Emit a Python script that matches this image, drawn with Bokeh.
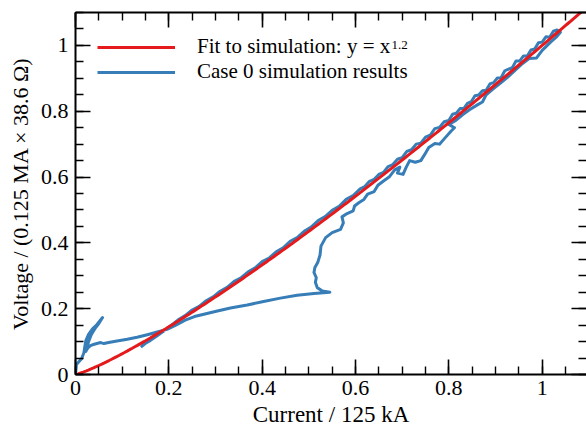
import numpy as np
from bokeh.plotting import figure
from bokeh.models import Range1d, LinearAxis, FixedTicker, Legend, LegendItem, Label
from bokeh.embed import file_html
from bokeh.resources import INLINE

FONT = "Liberation Serif"
RED = "#e41a1c"
BLUE = "#377eb8"

# ---- tick values / labels ----
x_ticks = [0.0, 0.2, 0.4, 0.6, 0.8, 1.0]
x_tick_labels = ["0", "0.2", "0.4", "0.6", "0.8", "1"]
y_ticks = [0.0, 0.2, 0.4, 0.6, 0.8, 1.0]
y_tick_labels = ["0", "0.2", "0.4", "0.6", "0.8", "1"]
minor_ticks = [round(0.05 * i, 2) for i in range(0, 23)]

# ---- fit: y = x^1.2 ----
fit_exponent = 1.2
fit_x = np.linspace(0.0, 1.1, 200)
fit_y = fit_x ** fit_exponent

# ---- Case 0 simulation results ----
sim_current = [
    # start near origin, spike and return
    0.000, 0.001, 0.002, 0.008, 0.013, 0.018, 0.020, 0.022, 0.028, 0.036, 0.046, 0.058,
    0.050, 0.042, 0.034, 0.028, 0.024, 0.022,
    # lower branch
    0.026, 0.032, 0.040, 0.048, 0.054, 0.061, 0.071, 0.089, 0.111, 0.132, 0.154, 0.175,
    0.196, 0.215, 0.235, 0.255, 0.275, 0.304, 0.332, 0.368, 0.403, 0.439, 0.475, 0.511, 0.545,
    # climb back to the fit
    0.529, 0.518, 0.514, 0.516, 0.511, 0.513, 0.519, 0.524, 0.526, 0.536, 0.550, 0.568,
    0.574, 0.571, 0.582, 0.595, 0.598, 0.607,
    # upward strand with loops
    0.618, 0.626, 0.640, 0.648, 0.660, 0.672, 0.684, 0.695, 0.690, 0.702, 0.708, 0.716,
    0.728, 0.740, 0.748, 0.757, 0.770, 0.780, 0.790, 0.805, 0.812, 0.800, 0.815, 0.830,
    0.845, 0.862, 0.872, 0.880, 0.895, 0.910, 0.925, 0.940, 0.958, 0.972, 0.988, 1.000,
    1.018, 1.030, 1.039,
    # downward strand along the fit
    1.032, 1.024, 1.016, 1.008, 1.000, 0.992, 0.984, 0.976, 0.968, 0.960, 0.952, 0.944,
    0.936, 0.928, 0.920, 0.912, 0.904, 0.896, 0.888, 0.880, 0.872, 0.864, 0.856, 0.848,
    0.840, 0.832, 0.824, 0.816, 0.808, 0.800, 0.790, 0.780, 0.770, 0.760, 0.750, 0.740,
    0.730, 0.720, 0.710, 0.700, 0.690, 0.680, 0.670, 0.660, 0.650, 0.640, 0.630, 0.620,
    0.610, 0.595, 0.580, 0.565, 0.550, 0.535, 0.520, 0.505, 0.490, 0.475, 0.460, 0.445,
    0.430, 0.415, 0.400, 0.385, 0.370, 0.355, 0.340, 0.325, 0.310, 0.295, 0.280, 0.265,
    0.250, 0.235, 0.220, 0.205, 0.190, 0.175, 0.160, 0.150, 0.140,
]
sim_voltage = [
    0.000, 0.015, 0.030, 0.040, 0.048, 0.066, 0.085, 0.102, 0.122, 0.138, 0.152, 0.173,
    0.155, 0.140, 0.122, 0.100, 0.078, 0.070,
    0.080, 0.088, 0.092, 0.095, 0.097, 0.094, 0.097, 0.102, 0.107, 0.113, 0.121, 0.129,
    0.137, 0.150, 0.165, 0.176, 0.183, 0.193, 0.202, 0.211, 0.222, 0.232, 0.241, 0.246, 0.250,
    0.254, 0.264, 0.280, 0.294, 0.310, 0.325, 0.340, 0.363, 0.390, 0.416, 0.431, 0.441,
    0.461, 0.479, 0.489, 0.497, 0.512, 0.522,
    0.532, 0.548, 0.556, 0.575, 0.588, 0.600, 0.622, 0.630, 0.612, 0.608, 0.628, 0.650,
    0.645, 0.650, 0.668, 0.690, 0.702, 0.700, 0.716, 0.740, 0.750, 0.760, 0.772, 0.790,
    0.805, 0.820, 0.828, 0.850, 0.868, 0.885, 0.902, 0.922, 0.945, 0.960, 0.962, 0.985,
    1.010, 1.025, 1.040,
    1.047, 1.043, 1.025, 1.026, 1.010, 1.008, 0.989, 0.986, 0.968, 0.968, 0.953, 0.953,
    0.932, 0.928, 0.923, 0.902, 0.901, 0.887, 0.883, 0.864, 0.862, 0.849, 0.847, 0.829,
    0.824, 0.808, 0.808, 0.794, 0.791, 0.772, 0.768, 0.751, 0.747, 0.727, 0.721, 0.703,
    0.700, 0.683, 0.678, 0.659, 0.654, 0.638, 0.632, 0.614, 0.608, 0.593, 0.587, 0.571,
    0.564, 0.544, 0.532, 0.511, 0.499, 0.480, 0.468, 0.448, 0.435, 0.416, 0.405, 0.385,
    0.373, 0.354, 0.343, 0.324, 0.312, 0.294, 0.283, 0.265, 0.253, 0.236, 0.224, 0.207,
    0.196, 0.179, 0.166, 0.149, 0.133, 0.118, 0.103, 0.095, 0.083,
]

p = figure(
    width=586, height=432, output_backend="svg", toolbar_location=None,
    x_range=Range1d(0, 1.095), y_range=Range1d(0, 1.1),
    min_border_left=75, min_border_right=0, min_border_top=12, min_border_bottom=58,
    x_axis_label="Current / 125 kA",
    y_axis_label="Voltage / (0.125 MA \u00d7 38.6 \u03a9)",
)
p.grid.visible = False
p.outline_line_color = None
p.background_fill_color = "white"
p.border_fill_color = "white"

x_ticker = FixedTicker(ticks=x_ticks, minor_ticks=minor_ticks)
y_ticker = FixedTicker(ticks=y_ticks, minor_ticks=minor_ticks)


def style_axis(ax, show_labels=True):
    ax.axis_line_width = 2
    ax.axis_line_color = "black"
    ax.major_tick_in = 15
    ax.major_tick_out = 0
    ax.minor_tick_in = 8
    ax.minor_tick_out = 0
    ax.major_tick_line_width = 1.6
    ax.minor_tick_line_width = 1.4
    ax.major_tick_line_color = "black"
    ax.minor_tick_line_color = "black"
    ax.major_label_text_font = FONT
    ax.axis_label_text_font = FONT
    ax.axis_label_text_font_style = "normal"
    ax.axis_label_text_color = "black"
    if show_labels:
        ax.major_label_text_font_size = "22px"
        ax.major_label_text_color = "black"
    else:
        ax.major_label_text_font_size = "0px"
        ax.major_label_text_color = None
        ax.major_label_standoff = 0


xa = p.xaxis[0]
xa.ticker = x_ticker
xa.major_label_overrides = dict(zip(x_ticks, x_tick_labels))
style_axis(xa)
xa.axis_label_text_font_size = "23px"
xa.major_label_standoff = 6
xa.axis_label_standoff = 4

ya = p.yaxis[0]
ya.ticker = y_ticker
ya.major_label_overrides = dict(zip(y_ticks, y_tick_labels))
style_axis(ya)
ya.axis_label_text_font_size = "22px"
ya.major_label_standoff = 7
ya.axis_label_standoff = 5

top_axis = LinearAxis(ticker=x_ticker)
style_axis(top_axis, show_labels=False)
p.add_layout(top_axis, "above")

right_axis = LinearAxis(ticker=y_ticker)
style_axis(right_axis, show_labels=False)
right_axis.axis_line_color = None
p.add_layout(right_axis, "right")

blue = p.line(sim_current, sim_voltage, line_color=BLUE, line_width=3, line_join="round")
red = p.line(fit_x, fit_y, line_color=RED, line_width=3)

legend = Legend(
    items=[
        LegendItem(label="Fit to simulation: y = x", renderers=[red]),
        LegendItem(label="Case 0 simulation results", renderers=[blue]),
    ],
    location=(22, 290),
    glyph_width=78, glyph_height=20, label_height=20, label_standoff=22,
    spacing=-3, padding=10, margin=0,
    border_line_color=None, background_fill_alpha=0,
    label_text_font=FONT, label_text_font_size="21px", label_text_color="black",
)
p.add_layout(legend)

sup = Label(x=316, y=330, x_units="screen", y_units="screen", text="1.2",
            text_font=FONT, text_font_size="13px", text_color="black",
            text_baseline="alphabetic")
p.add_layout(sup)

open("out.html", "w").write(file_html(p, INLINE))
